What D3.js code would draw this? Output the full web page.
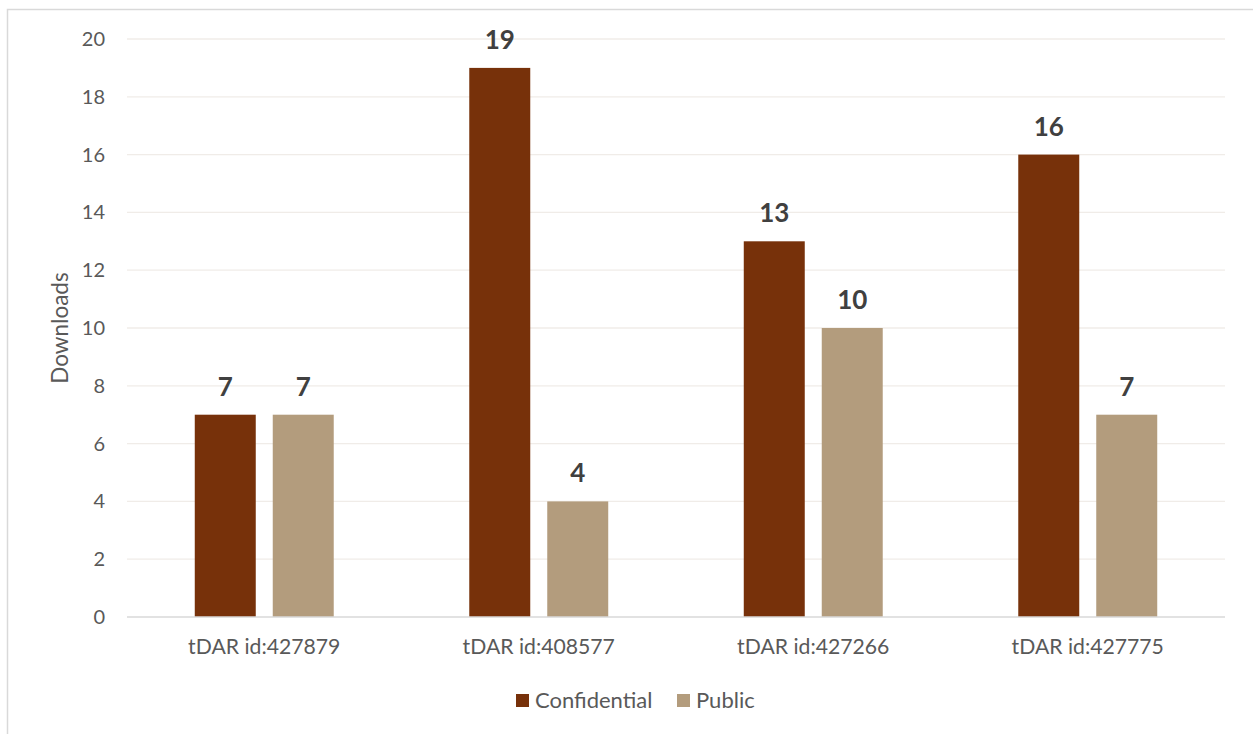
<!DOCTYPE html>
<html><head><meta charset="utf-8">
<script src="https://cdn.jsdelivr.net/npm/d3@7"></script>
<style>body{margin:0;background:#fff;font-family:Lato,"Open Sans",sans-serif;}</style>
</head><body><svg id="c" width="1253" height="734"></svg>
<script>
const categories = ["tDAR id:427879","tDAR id:408577","tDAR id:427266","tDAR id:427775"];
const seriesNames = ["Confidential","Public"];
const confidential = [7,19,13,16];
const publicVals = [7,4,10,7];
const yTicks = [0,2,4,6,8,10,12,14,16,18,20];
const colors = ["#77310A","#B39C7D"];

const svg = d3.select("#c");
// outer frame
svg.append("rect").attr("x",7.5).attr("y",9.5).attr("width",1260).attr("height",740)
  .attr("fill","none").attr("stroke","#D9D9D9").attr("stroke-width",1.5);

const m = {l:127, r:1225, t:39, b:617};
const x0 = d3.scaleBand().domain(categories).range([m.l,m.r]);
const x1 = d3.scaleBand().domain(seriesNames).range([0,x0.bandwidth()]).paddingInner(0.218).paddingOuter(0.869);
const y = d3.scaleLinear().domain([0,20]).range([m.b,m.t]);

// gridlines
svg.append("g").selectAll("line").data(yTicks.filter(d=>d>0)).join("line")
  .attr("x1",m.l).attr("x2",m.r).attr("y1",d=>y(d)).attr("y2",d=>y(d))
  .attr("stroke","#F0ECE8").attr("stroke-width",1.3);

const yAxis = svg.append("g").attr("transform",`translate(${m.l},0)`)
  .call(d3.axisLeft(y).tickValues(yTicks).tickSize(0).tickPadding(22));
yAxis.select(".domain").remove();
yAxis.selectAll("text").attr("fill","#595959").style("font-size","20px").style("font-family","Lato,'Open Sans',sans-serif");

const data = categories.map((c,i)=>({c, vals:[{s:seriesNames[0],v:confidential[i]},{s:seriesNames[1],v:publicVals[i]}]}));
const g = svg.append("g").selectAll("g").data(data).join("g").attr("transform",d=>`translate(${x0(d.c)},0)`);
g.selectAll("rect").data(d=>d.vals).join("rect")
  .attr("x",d=>x1(d.s)).attr("width",x1.bandwidth())
  .attr("y",d=>y(d.v)).attr("height",d=>y(0)-y(d.v))
  .attr("fill",(d,i)=>colors[i]);
g.selectAll("text").data(d=>d.vals).join("text")
  .attr("x",d=>x1(d.s)+x1.bandwidth()/2).attr("y",d=>y(d.v)-19)
  .attr("text-anchor","middle").attr("fill","#404040")
  .style("font-size","26px").style("font-weight","bold").text(d=>d.v);

// x axis
svg.append("line").attr("x1",m.l).attr("x2",m.r).attr("y1",y(0)).attr("y2",y(0)).attr("stroke","#D9D9D9").attr("stroke-width",1.3);
const xAxis = svg.append("g").attr("transform",`translate(0,${m.b})`)
  .call(d3.axisBottom(x0).tickSize(0).tickPadding(22));
xAxis.select(".domain").remove();
xAxis.selectAll("text").attr("fill","#595959").style("font-size","21.2px").style("font-family","Lato,'Open Sans',sans-serif");

svg.append("text").attr("transform","translate(68,328) rotate(-90)").attr("text-anchor","middle")
  .attr("fill","#595959").style("font-size","22.5px").text("Downloads");

// legend
const leg = svg.append("g");
const lx = [516, 677];
seriesNames.forEach((s,i)=>{
  leg.append("rect").attr("x",lx[i]).attr("y",694).attr("width",13).attr("height",13).attr("fill",colors[i]);
  leg.append("text").attr("x",lx[i]+19).attr("y",708).attr("fill","#595959").style("font-size","22px").text(s);
});
</script></body></html>
